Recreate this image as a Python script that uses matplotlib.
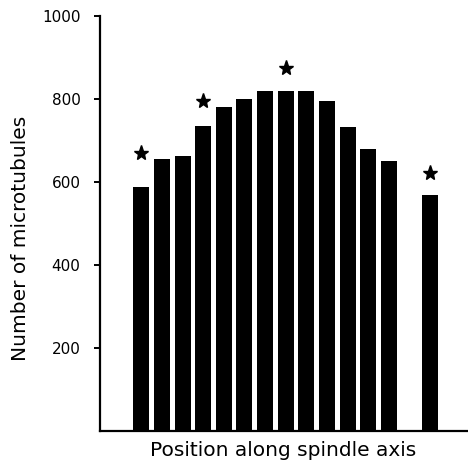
import numpy as np
import matplotlib
matplotlib.use('Agg')
import matplotlib.pyplot as plt

# microtubule counts at each position along the spindle (position 14 not sampled)
positions = [1, 2, 3, 4, 5, 6, 7, 8, 9, 10, 11, 12, 13, 15]
counts = [589, 655, 663, 735, 780, 801, 820, 820, 818, 796, 732, 680, 651, 569]

# positions flagged with a star and the height the star sits at
star_positions = [1, 4, 8, 15]
star_heights = [669, 796, 874, 621]

yticks = [200, 400, 600, 800, 1000]

plt.rcParams['font.family'] = 'DejaVu Sans'

fig = plt.figure(figsize=(4.68, 4.68), dpi=100)
ax = fig.add_axes([0.2137, 0.079, 0.784, 0.887])

ax.bar(positions, counts, width=0.775, color='black', edgecolor='none')
ax.plot(star_positions, star_heights, ls='none', marker='*', ms=11,
        color='black', mec='black')

ax.set_xlim(-1.0, 16.78)
ax.set_ylim(0, 1000)
ax.set_yticks(yticks)
ax.set_xticks([])

# only left and bottom axis lines
ax.spines['right'].set_visible(False)
ax.spines['top'].set_visible(False)
ax.spines['left'].set_linewidth(1.6)
ax.spines['bottom'].set_linewidth(1.6)
ax.tick_params(axis='y', direction='out', length=4, width=1.4, labelsize=11, pad=10)

ax.set_xlabel('Position along spindle axis', fontsize=14.5, labelpad=7)
ax.set_ylabel('Number of microtubules', fontsize=14.5)
ax.yaxis.set_label_coords(-0.19, 0.465)

fig.savefig('out.png', dpi=100)
